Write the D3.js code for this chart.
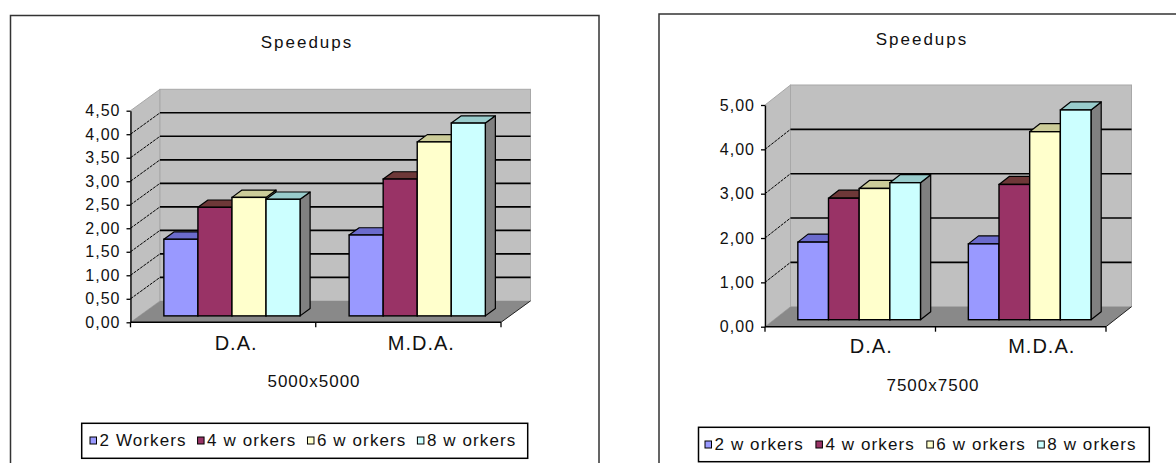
<!DOCTYPE html>
<html>
<head>
<meta charset="utf-8">
<script src="https://cdn.jsdelivr.net/npm/d3@7"></script>
<style>
  html, body { margin: 0; padding: 0; background: #fff; }
  svg { display: block; }
  text { font-family: "Liberation Sans", Arial, sans-serif; fill: #111; }
</style>
</head>
<body>
<svg id="chart" width="1176" height="463"></svg>
<script>
// ---------------- DATA ----------------
const categories = ["D.A.", "M.D.A."];

// Left chart: 5000x5000
const leftTitle = "Speedups";
const leftAxisTitle = "5000x5000";
const leftSeries = ["2 Workers", "4 w orkers", "6 w orkers", "8 w orkers"];
const left2Workers = [1.63, 1.72];
const left4Workers = [2.31, 2.91];
const left6Workers = [2.52, 3.70];
const left8Workers = [2.48, 4.10];
const leftTicks = [0, 0.5, 1, 1.5, 2, 2.5, 3, 3.5, 4, 4.5];

// Right chart: 7500x7500
const rightTitle = "Speedups";
const rightAxisTitle = "7500x7500";
const rightSeries = ["2 w orkers", "4 w orkers", "6 w orkers", "8 w orkers"];
const right2Workers = [1.75, 1.71];
const right4Workers = [2.74, 3.05];
const right6Workers = [2.96, 4.24];
const right8Workers = [3.09, 4.73];
const rightTicks = [0, 1, 2, 3, 4, 5];

// ---------------- STYLE ----------------
const frontColors = ["#9999FF", "#993366", "#FFFFCC", "#CCFFFF"];
const topColors   = ["#6B6BCC", "#6E3838", "#CCCC99", "#99CCCC"];
const sideColors  = ["#4C4C80", "#4D1A33", "#808066", "#808080"];

const locale = d3.formatLocale({decimal: ",", thousands: ".", grouping: [3], currency: ["", ""]});
const fmt = locale.format(".2f");

const svg = d3.select("#chart");

function drawChart(cfg) {
  const g = svg.append("g");

  // frame
  g.append("rect")
    .attr("x", cfg.frame.x).attr("y", cfg.frame.y)
    .attr("width", cfg.frame.w).attr("height", cfg.frame.h)
    .attr("fill", "#fff").attr("stroke", "#333").attr("stroke-width", 1.5);

  const y = d3.scaleLinear().domain(cfg.domain).range([cfg.y0, cfg.yTop]);
  const x = d3.scaleBand().domain(categories).range([cfg.xLeft, cfg.xRight]);
  const xs = d3.scaleBand().domain(cfg.series).range([0, x.bandwidth()]).paddingOuter(cfg.outerPad);
  const depthX = d3.scaleLinear().domain([0, 1]).range([0, cfg.dx]);
  const depthY = d3.scaleLinear().domain([0, 1]).range([0, cfg.dy]);

  const X0 = cfg.xLeft, X1 = cfg.xRight;
  const Y0 = y(cfg.domain[0]), YT = y(cfg.domain[1]);
  const DX = depthX(1), DY = depthY(1);

  // side wall
  g.append("polygon")
    .attr("points", [[X0, YT], [X0 + DX, YT + DY], [X0 + DX, Y0 + DY], [X0, Y0]].join(" "))
    .attr("fill", "#C0C0C0").attr("stroke", "#A8A8A8").attr("stroke-width", 1);
  // back wall
  g.append("rect")
    .attr("x", X0 + DX).attr("y", YT + DY)
    .attr("width", X1 - X0).attr("height", Y0 - YT)
    .attr("fill", "#C0C0C0").attr("stroke", "#A8A8A8").attr("stroke-width", 1);
  // floor
  g.append("polygon")
    .attr("points", [[X0, Y0], [X1, Y0], [X1 + DX, Y0 + DY], [X0 + DX, Y0 + DY]].join(" "))
    .attr("fill", "#898989");
  g.append("line")
    .attr("x1", X1).attr("y1", Y0).attr("x2", X1 + DX).attr("y2", Y0 + DY)
    .attr("stroke", "#222").attr("stroke-width", 1);

  const gridTicks = cfg.ticks.filter(t => t > cfg.domain[0] && t < cfg.domain[1]);
  // back wall gridlines
  g.selectAll(".bgrid").data(gridTicks).join("line")
    .attr("x1", X0 + DX).attr("x2", X1 + DX)
    .attr("y1", t => y(t) + DY).attr("y2", t => y(t) + DY)
    .attr("stroke", "#000").attr("stroke-width", 1.6);
  // side wall gridlines
  g.selectAll(".sgrid").data(gridTicks).join("line")
    .attr("x1", X0).attr("y1", t => y(t))
    .attr("x2", X0 + DX).attr("y2", t => y(t) + DY)
    .attr("stroke", "#000").attr("stroke-width", 1).attr("stroke-dasharray", "3,1");

  // y axis
  const yAxis = d3.axisLeft(y).tickValues(cfg.ticks).tickFormat(fmt).tickSize(4).tickSizeOuter(0).tickPadding(6);
  const ya = g.append("g").attr("transform", `translate(${X0},0)`).call(yAxis);
  ya.select(".domain").attr("stroke", "#000").attr("stroke-width", 1.3);
  ya.selectAll(".tick line").attr("stroke", "#000").attr("stroke-width", 1.3);
  ya.selectAll(".tick text")
    .attr("font-size", 16).attr("letter-spacing", 1)
    .attr("fill", "#111").attr("font-family", "Liberation Sans, Arial, sans-serif");

  // x axis line & boundary ticks
  g.append("line").attr("x1", X0).attr("x2", X1).attr("y1", Y0).attr("y2", Y0)
    .attr("stroke", "#000").attr("stroke-width", 1.6);
  const bounds = categories.map(c => x(c)).concat([x(categories[categories.length - 1]) + x.bandwidth()]);
  g.selectAll(".xtick").data(bounds).join("line")
    .attr("x1", d => d).attr("x2", d => d).attr("y1", Y0).attr("y2", Y0 + 5)
    .attr("stroke", "#000").attr("stroke-width", 1.3);

  // bars
  const f0x = depthX(cfg.f0), f0y = depthY(cfg.f0);
  const bdx = depthX(cfg.barDepth), bdy = depthY(cfg.barDepth);
  categories.forEach((cat, ci) => {
    cfg.series.forEach((s, si) => {
      const v = cfg.values[si][ci];
      const xa = x(cat) + xs(s) + f0x;
      const xb = xa + xs.bandwidth();
      const yb = y(0) + f0y;
      const yt = y(v) + f0y;
      // side
      g.append("polygon")
        .attr("points", [[xb, yt], [xb + bdx, yt + bdy], [xb + bdx, yb + bdy], [xb, yb]].join(" "))
        .attr("fill", sideColors[si]).attr("stroke", "#000").attr("stroke-width", 1.2).attr("stroke-linejoin", "round");
      // top
      g.append("polygon")
        .attr("points", [[xa, yt], [xb, yt], [xb + bdx, yt + bdy], [xa + bdx, yt + bdy]].join(" "))
        .attr("fill", topColors[si]).attr("stroke", "#000").attr("stroke-width", 1.2).attr("stroke-linejoin", "round");
      // front
      g.append("rect")
        .attr("x", xa).attr("y", yt).attr("width", xb - xa).attr("height", yb - yt)
        .attr("fill", frontColors[si]).attr("stroke", "#000").attr("stroke-width", 1.4);
    });
  });

  // category labels
  g.selectAll(".cat").data(categories).join("text")
    .attr("x", c => x(c) + x.bandwidth() / 2 + cfg.catShift)
    .attr("y", cfg.catBaseline)
    .attr("text-anchor", "middle").attr("font-size", 20).attr("letter-spacing", 1)
    .text(c => c);

  // axis title
  g.append("text").attr("x", cfg.axisTitleX).attr("y", cfg.axisTitleBaseline)
    .attr("text-anchor", "middle").attr("font-size", 17).attr("letter-spacing", 1)
    .text(cfg.axisTitle);

  // chart title
  g.append("text").attr("x", cfg.titleX).attr("y", cfg.titleBaseline)
    .attr("text-anchor", "middle").attr("font-size", 17).attr("letter-spacing", 2)
    .text(cfg.title);

  // legend
  const L = cfg.legend;
  g.append("rect").attr("x", L.x).attr("y", L.y).attr("width", L.w).attr("height", L.h)
    .attr("fill", "#fff").attr("stroke", "#000").attr("stroke-width", 1.5);
  let cx = L.x + L.inset;
  cfg.series.forEach((s, si) => {
    g.append("rect").attr("x", cx).attr("y", L.baseline - 9).attr("width", 6.5).attr("height", 7)
      .attr("fill", frontColors[si]).attr("stroke", "#000").attr("stroke-width", 1);
    const t = g.append("text").attr("x", cx + 9.5).attr("y", L.baseline)
      .attr("font-size", 17).attr("letter-spacing", 1.1).text(s);
    cx = cx + 9.5 + t.node().getComputedTextLength() + L.gap;
  });
}

drawChart({
  frame: {x: 10.5, y: 15.5, w: 588.5, h: 470},
  domain: [0, 4.5], ticks: leftTicks, y0: 322.3, yTop: 110.7,
  xLeft: 130.5, xRight: 501, dx: 29.5, dy: -21.4,
  f0: 0.3, barDepth: 0.34, outerPad: 0.72,
  series: leftSeries, values: [left2Workers, left4Workers, left6Workers, left8Workers],
  catShift: 13, catBaseline: 350,
  axisTitle: leftAxisTitle, axisTitleX: 314, axisTitleBaseline: 386.5,
  title: leftTitle, titleX: 307, titleBaseline: 48,
  legend: {x: 81.7, y: 423.3, w: 446, h: 35, baseline: 446, inset: 8.3, gap: 11}
});

drawChart({
  frame: {x: 659, y: 14, w: 540, h: 470},
  domain: [0, 5], ticks: rightTicks, y0: 326.7, yTop: 105,
  xLeft: 765, xRight: 1106, dx: 25.5, dy: -20,
  f0: 0.35, barDepth: 0.4, outerPad: 0.78,
  series: rightSeries, values: [right2Workers, right4Workers, right6Workers, right8Workers],
  catShift: 21, catBaseline: 353,
  axisTitle: rightAxisTitle, axisTitleX: 933, axisTitleBaseline: 390.5,
  title: rightTitle, titleX: 922, titleBaseline: 44.5,
  legend: {x: 698.5, y: 427.3, w: 450.8, h: 34.4, baseline: 450, inset: 6.5, gap: 12}
});
</script>
</body>
</html>
